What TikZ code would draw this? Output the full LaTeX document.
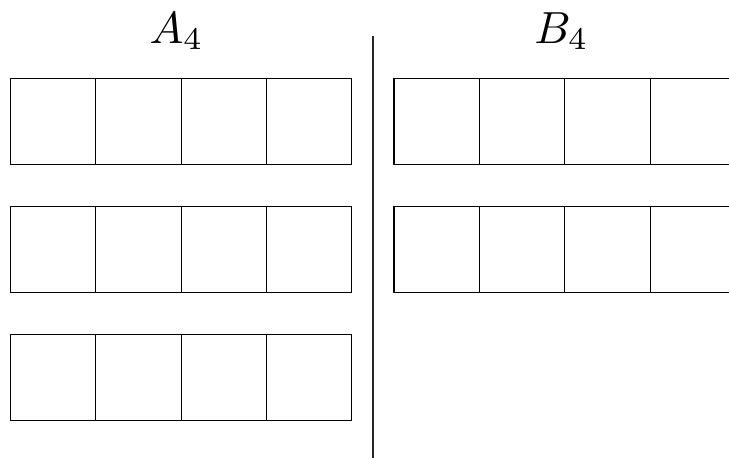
\documentclass[tikz,border=0pt]{standalone}
\usepackage{graphicx}
\begin{document}
\begin{tikzpicture}[x=1pt,y=-1pt,
  cell/.style={draw=black,line width=1.1pt,minimum width=85.4pt,minimum height=85.3pt,inner sep=0pt,outer sep=0pt,anchor=north west},
  lbl/.style={anchor=base,inner sep=0pt},
  divider/.style={draw=black!85,line width=2pt}]
\useasboundingbox (0,0) rectangle (729,458);
\clip (0,0) rectangle (729,458);
\node[lbl] (la) at (176.5,43) {\scalebox{4.5}{$A_4$}};
\node[lbl] (lb) at (561.5,43) {\scalebox{4.5}{$B_4$}};
\foreach \r/\y in {1/78.9,2/206.9,3/334.9}{
  \foreach \c in {0,1,2,3}{
    \node[cell] (a\r\c) at ({10.3+85.4*\c},\y) {};
  }
}
\foreach \r/\y in {1/78.9,2/206.9}{
  \foreach \c in {0,1,2,3}{
    \node[cell] (b\r\c) at ({394+85.4*\c},\y) {};
  }
}
\coordinate (vtop) at (372.8,36);
\coordinate (vbot) at (372.8,458);
\draw[divider] (vtop) -- (vbot);
\end{tikzpicture}
\end{document}
